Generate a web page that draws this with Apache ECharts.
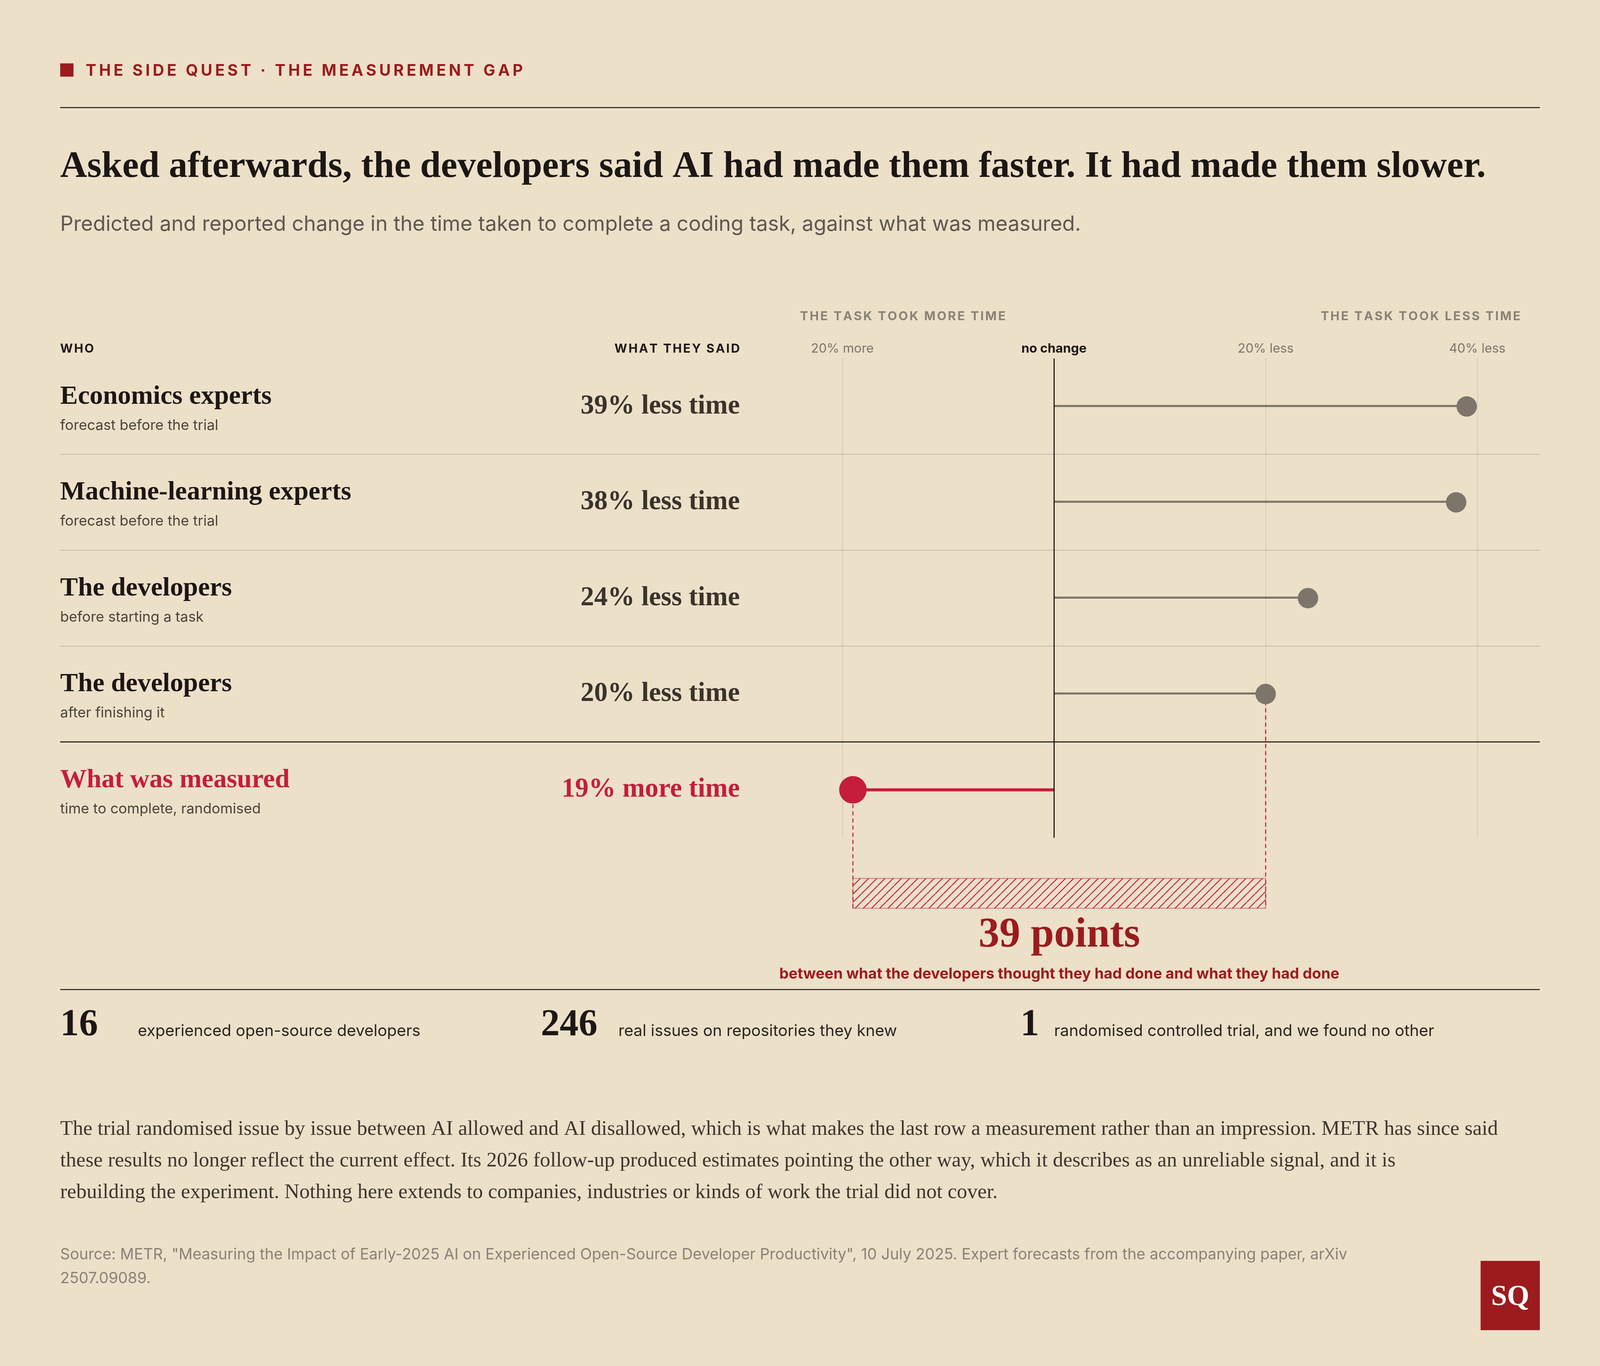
<!DOCTYPE html>
<html><head><meta charset="utf-8">
<script src="https://cdn.jsdelivr.net/npm/echarts@6/dist/echarts.min.js"></script>
<style>html,body{margin:0;padding:0;background:#ece0c8;overflow:hidden}#chart{width:100vw;height:100vh}</style>
</head><body><div id="chart"></div>
<script>
// layout is written in 1568 x 1143 units and stretched to the window
const SX = window.innerWidth / 1568;
const SY = window.innerHeight / 1143;
const SF = Math.min(SX, SY);
const X = v => v * SX, Y = v => v * SY, F = v => v * SF;

const rowNames = ['Economics experts', 'Machine-learning experts', 'The developers', 'The developers', 'What was measured'];
const rowNotes = ['forecast before the trial', 'forecast before the trial', 'before starting a task', 'after finishing it', 'time to complete, randomised'];
const saidLabels = ['39% less time', '38% less time', '24% less time', '20% less time', '19% more time'];
const lessTime = [39, 38, 24, 20, -19];   // positive = less time, negative = more time
const tickValues = [-20, 0, 20, 40];
const tickLabels = ['20% more', 'no change', '20% less', '40% less'];
const gapPoints = 39;
const stats = [['16', 'experienced open-source developers'], ['246', 'real issues on repositories they knew'], ['1', 'randomised controlled trial, and we found no other']];

const RED = '#c41e3a', DARK_RED = '#9b1b1e', GRAY = '#7d746a', INK = '#1c1714', BG = '#ece0c8';
const SERIF = '"Liberation Serif", serif', SANS = 'Inter, "Noto Sans", sans-serif';

const chart = echarts.init(document.getElementById('chart'));

chart.setOption({
  backgroundColor: BG,
  animation: false,
  grid: { left: X(784), width: X(726), top: Y(300), height: Y(401) },
  xAxis: { type: 'value', min: -24, max: 46, show: false },
  yAxis: { type: 'category', data: rowNames.map((n, i) => i), inverse: true, show: false },
  series: [
    {
      type: 'bar', barWidth: F(2), itemStyle: { color: GRAY },
      data: lessTime.map((v, i) => i < 4 ? v : '-'),
      markLine: {
        silent: true, symbol: 'none', label: { show: false },
        data: tickValues.map(v => ({ xAxis: v, lineStyle: v === 0 ? { color: INK, width: F(1.1), type: 'solid' } : { color: 'rgba(0,0,0,0.07)', width: F(1), type: 'solid' } }))
      }
    },
    {
      type: 'bar', barWidth: F(3), barGap: '-100%', itemStyle: { color: RED },
      data: lessTime.map((v, i) => i === 4 ? v : '-')
    },
    { type: 'scatter', symbolSize: F(20), itemStyle: { color: GRAY, opacity: 1 }, data: lessTime.map((v, i) => i < 4 ? [v, i] : null).filter(Boolean), z: 5 },
    { type: 'scatter', symbolSize: F(27), itemStyle: { color: RED, opacity: 1 }, data: [[lessTime[4], 4]], z: 5 }
  ]
});

const px = (v, i) => chart.convertToPixel({ gridIndex: 0 }, [v, i]);
const g = [];
const fontOf = (size, o) => `${o.weight || 'normal'} ${F(size)}px ${o.family || SANS}`;
const txt = (t, x, y, size, o = {}) => g.push({
  type: 'text', z: 10, silent: true,
  style: { text: t, x: X(x), y: Y(y), fill: o.fill || INK, font: fontOf(size, o), align: o.align || 'left', verticalAlign: 'middle' }
});
// letter-spaced caps, drawn one character at a time
const measure = document.createElement('canvas').getContext('2d');
const spaced = (t, x, y, size, track, o = {}) => {
  measure.font = fontOf(size, o);
  const ws = [...t].map(ch => measure.measureText(ch).width + F(track));
  const total = ws.reduce((a, b) => a + b, 0) - F(track);
  let cx = o.align === 'right' ? X(x) - total : X(x);
  [...t].forEach((ch, k) => {
    g.push({ type: 'text', z: 10, silent: true, style: { text: ch, x: cx, y: Y(y), fill: o.fill || INK, font: fontOf(size, o), align: 'left', verticalAlign: 'middle' } });
    cx += ws[k];
  });
};
const hline = (x1, x2, y, color, w) => g.push({ type: 'line', silent: true, shape: { x1: X(x1), y1: Y(y), x2: X(x2), y2: Y(y) }, style: { stroke: color, lineWidth: F(w) } });

// header
g.push({ type: 'rect', shape: { x: X(59), y: Y(53), width: F(13), height: F(13) }, style: { fill: DARK_RED } });
spaced('THE SIDE QUEST · THE MEASUREMENT GAP', 84, 59.5, 15.5, 2.7, { fill: DARK_RED, weight: 'bold' });
hline(59, 1509, 90, INK, 1);
txt('Asked afterwards, the developers said AI had made them faster. It had made them slower.', 59, 140, 36.5, { weight: 'bold', family: SERIF });
txt('Predicted and reported change in the time taken to complete a coding task, against what was measured.', 59, 188, 20.3, { fill: '#5e5750' });

// column heads
spaced('THE TASK TOOK MORE TIME', 784, 265, 12, 1.45, { fill: '#8a8178', weight: 'bold' });
spaced('THE TASK TOOK LESS TIME', 1490, 265, 12, 1.45, { fill: '#8a8178', weight: 'bold', align: 'right' });
spaced('WHO', 59, 292, 12, 1.2, { weight: 'bold' });
spaced('WHAT THEY SAID', 725, 292, 12, 1.3, { weight: 'bold', align: 'right' });
tickValues.forEach((v, k) => {
  const x = px(v, 0)[0] / SX;
  txt(tickLabels[k], x, 292, 12.5, { align: 'center', fill: v === 0 ? INK : '#7d756c', weight: v === 0 ? 'bold' : 'normal' });
});

// rows
rowNames.forEach((n, i) => {
  const y = px(0, i)[1] / SY;
  const red = i === 4;
  txt(n, 59, y - 8, 26, { weight: 'bold', family: SERIF, fill: red ? RED : INK });
  txt(rowNotes[i], 59, y + 16, 14, { fill: '#4a433d' });
  txt(saidLabels[i], 725, y, 26.5, { weight: 'bold', family: SERIF, align: 'right', fill: red ? RED : '#3a332d' });
  if (i < 4) {
    const yb = (px(0, i)[1] + px(0, i + 1)[1]) / 2 / SY;
    hline(59, 1509, yb, i === 3 ? INK : 'rgba(0,0,0,0.14)', 1);
  }
});

// gap between reported-after and measured
const xa = px(lessTime[3], 3), xm = px(lessTime[4], 4);
const hatchTop = Y(735), hatchBot = Y(760);
[[xa[0], xa[1]], [xm[0], xm[1]]].forEach(([x, y]) => g.push({ type: 'line', silent: true, z: 3, shape: { x1: x, y1: y, x2: x, y2: hatchBot }, style: { stroke: RED, lineWidth: F(1), lineDash: [F(4), F(3)] } }));
const pat = document.createElement('canvas');
pat.width = pat.height = Math.round(F(8));
const c = pat.getContext('2d');
c.strokeStyle = RED; c.lineWidth = F(0.9);
for (let k = -1; k <= 1; k++) { c.beginPath(); c.moveTo(k * pat.width, pat.height); c.lineTo((k + 1) * pat.width, 0); c.stroke(); }
g.push({ type: 'rect', silent: true, shape: { x: xm[0], y: hatchTop, width: xa[0] - xm[0], height: hatchBot - hatchTop }, style: { fill: { image: pat, repeat: 'repeat' }, stroke: 'rgba(196,30,58,0.5)', lineWidth: F(0.8) } });
const midX = (xa[0] + xm[0]) / 2 / SX;
txt(gapPoints + ' points', midX, 783, 41, { weight: 'bold', family: SERIF, fill: DARK_RED, align: 'center' });
txt('between what the developers thought they had done and what they had done', midX, 815, 14.6, { weight: 'bold', fill: DARK_RED, align: 'center' });

// stats
hline(59, 1509, 828, INK, 1);
[[59, 135], [530, 606], [1000, 1033]].forEach(([xn, xt], k) => {
  txt(stats[k][0], xn, 858, 37, { weight: 'bold', family: SERIF });
  txt(stats[k][1], xt, 863, 15.6, { fill: '#2a2420' });
});

// notes
['The trial randomised issue by issue between AI allowed and AI disallowed, which is what makes the last row a measurement rather than an impression. METR has since said',
 'these results no longer reflect the current effect. Its 2026 follow-up produced estimates pointing the other way, which it describes as an unreliable signal, and it is',
 'rebuilding the experiment. Nothing here extends to companies, industries or kinds of work the trial did not cover.'
].forEach((l, k) => txt(l, 59, 945 + k * 26.5, 20.3, { family: SERIF, fill: '#3d3630' }));
txt('Source: METR, "Measuring the Impact of Early-2025 AI on Experienced Open-Source Developer Productivity", 10 July 2025. Expert forecasts from the accompanying paper, arXiv', 59, 1050, 15, { fill: '#8a8178' });
txt('2507.09089.', 59, 1070, 15, { fill: '#8a8178' });

// logo
g.push({ type: 'rect', shape: { x: X(1451), y: Y(1055), width: X(58), height: Y(58) }, style: { fill: DARK_RED } });
txt('SQ', 1480, 1086, 28, { weight: 'bold', family: SERIF, fill: '#fff', align: 'center' });

chart.setOption({ graphic: g });
</script></body></html>
